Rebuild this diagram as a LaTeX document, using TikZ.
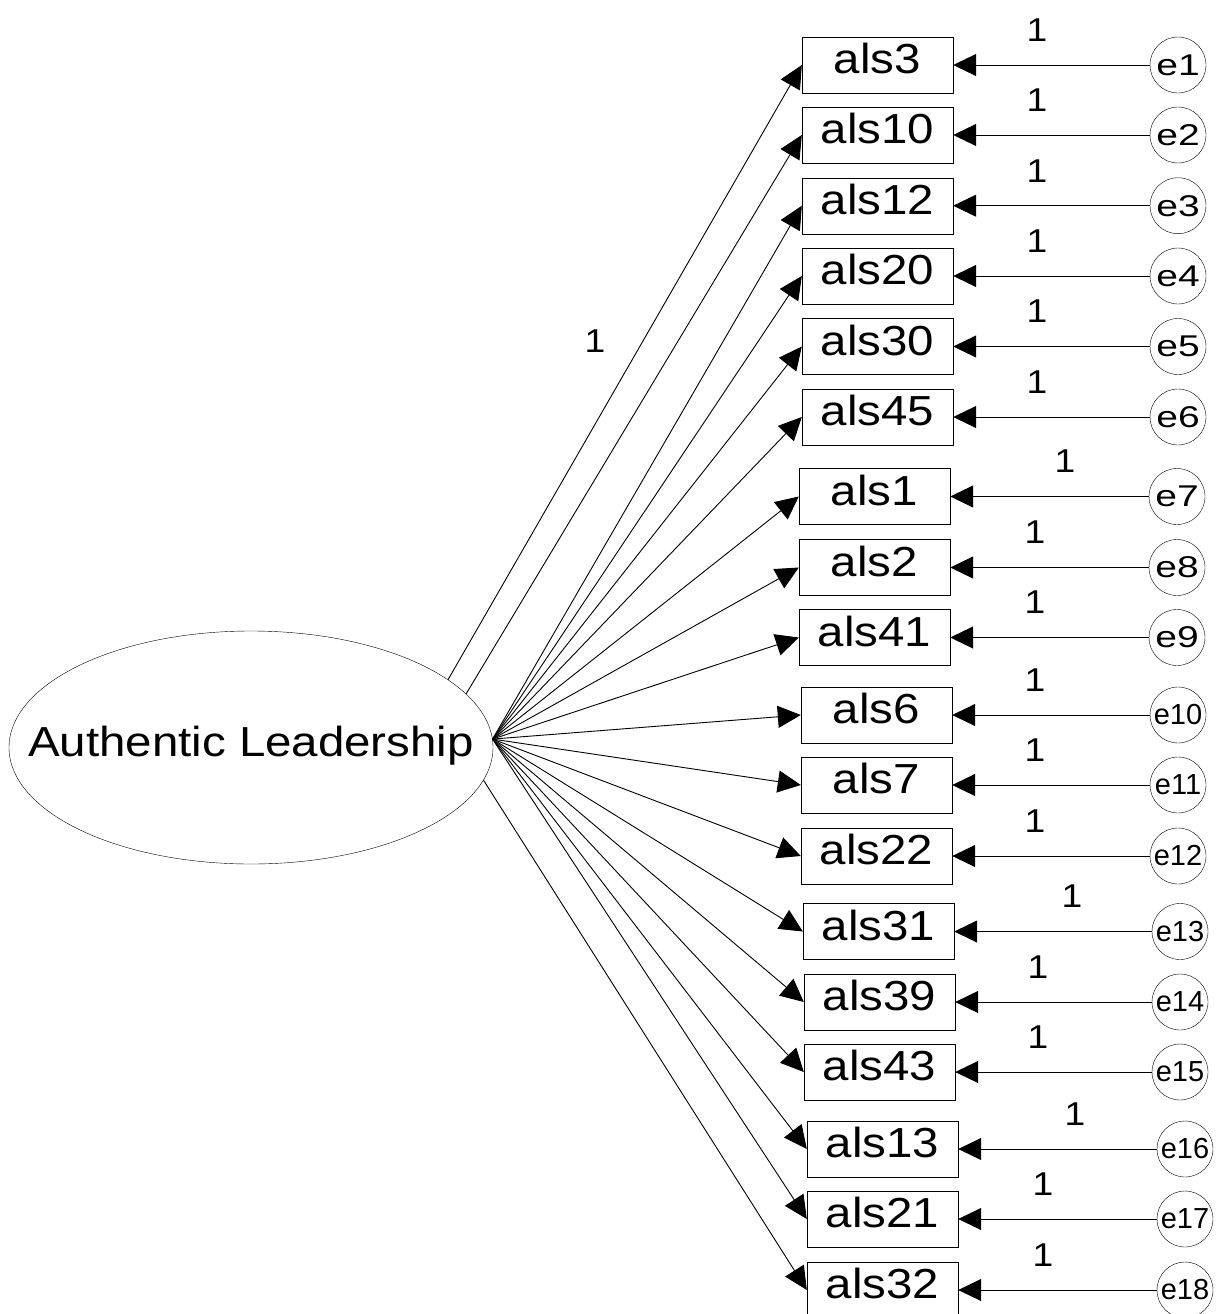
\documentclass[tikz,border=0pt]{standalone}
\usepackage{fontspec}
\setmainfont{Liberation Sans}
\newfontfamily\widefont[FakeStretch=1.13]{Liberation Sans}
\newfontfamily\widerfont[FakeStretch=1.3]{Liberation Sans}
\usetikzlibrary{arrows.meta,shapes.geometric}
\tikzset{
  obsbox/.style={draw, rectangle, minimum width=151pt, minimum height=56pt, inner sep=0pt,
    font=\widefont\fontsize{42}{42}\selectfont, text height=30pt, text depth=13pt},
  errcirc/.style={draw, circle, minimum size=56pt, inner sep=0pt},
  errlab/.style={font=\widerfont\fontsize{30}{30}\selectfont},
  errlabb/.style={font=\fontsize{29}{29}\selectfont},
  arr/.style={-{Triangle[length=23pt,width=22pt]}, line width=0.9pt},
  onelab/.style={font=\widefont\fontsize{33}{33}\selectfont, inner sep=0pt},
  latent/.style={draw, ellipse, minimum width=484pt, minimum height=233pt, inner sep=0pt,
    font=\widefont\fontsize{42}{42}\selectfont, text height=30pt, text depth=13pt}
}
\begin{document}
\begin{tikzpicture}[x=1pt,y=-1pt]
\useasboundingbox (0,0) rectangle (1217,1314);
\clip (0,0) rectangle (1217,1314);
\node[latent] (AL) at (251,747.5) {\makebox[0pt]{Authentic Leadership}};
\coordinate (s1) at (AL.19.8);
\coordinate (s2) at (AL.14.2);
\coordinate (sc) at (AL.2.5);
\coordinate (s18) at (AL.-8.5);
\foreach \i/\t/\l/\y/\ex/\ox in {
  1/als3/802/65/1178/1037,
  2/als10/802/135/1178/1037,
  3/als12/802/205.7/1178/1037,
  4/als20/802/276/1178/1037,
  5/als30/802/346.5/1178/1037,
  6/als45/802/417/1178/1037,
  7/als1/799/496.5/1177/1065,
  8/als2/799/567.5/1177/1035,
  9/als41/799/637.5/1177/1035,
  10/als6/801/715/1178/1035,
  11/als7/801/785/1178/1035,
  12/als22/801/856/1178/1035,
  13/als31/803/931.5/1180/1072,
  14/als39/804/1002/1180/1038,
  15/als43/804/1072/1180/1038,
  16/als13/807/1149/1185/1075,
  17/als21/807/1219/1185/1043,
  18/als32/807/1290/1185/1043}{
  \node[obsbox] (b\i) at ({\l+75.5},\y) {\t};
  \ifnum\i<10
    \node[errcirc, errlab] (e\i) at (\ex,\y) {e\i};
  \else
    \node[errcirc, errlabb] (e\i) at (\ex,\y) {e\i};
  \fi
  \draw[arr] (e\i) -- (b\i.east);
  \node[onelab] (o\i) at (\ox,{\y-35}) {1};
}
\draw[arr] (s1) -- (b1.west);
\draw[arr] (s2) -- (b2.west);
\foreach \i in {3,...,17}{
  \draw[arr] (sc) -- (b\i.west);
}
\draw[arr] (s18) -- (b18.west);
\node[onelab] (l1) at (595,341.5) {1};
\end{tikzpicture}
\end{document}
